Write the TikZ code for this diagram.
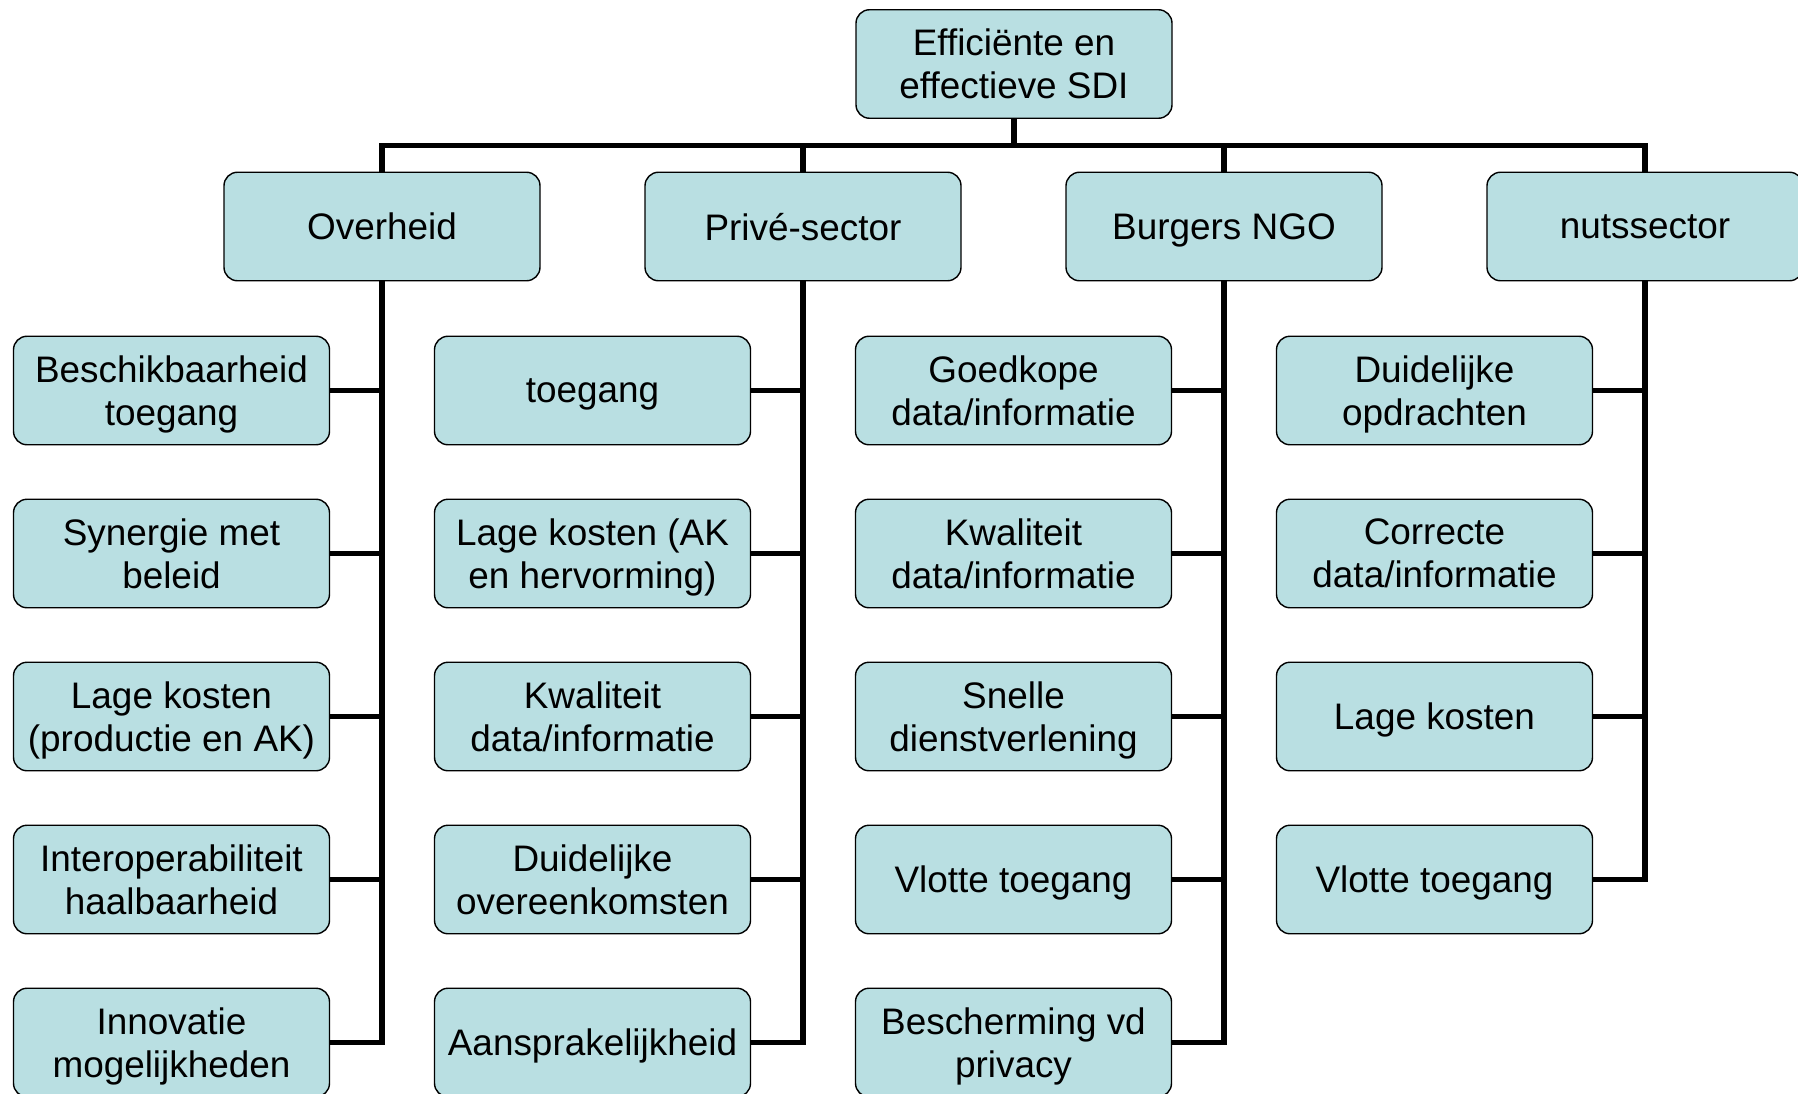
\documentclass[tikz,border=0pt]{standalone}
\usepackage{fontspec}
\setmainfont{Liberation Sans}
\definecolor{boxfill}{RGB}{185,223,226}
\tikzset{
  box/.style={draw=black, line width=0.8pt, fill=boxfill, rounded corners=0.27cm,
    minimum width=6.32cm, minimum height=2.17cm, inner sep=0pt, align=center,
    text depth=0pt, font=\fontsize{21}{24.5}\selectfont},
  bar/.style={line width=3.2pt, black}
}
\begin{document}
\begin{tikzpicture}
  \useasboundingbox (0,0) rectangle (35.96,-21.88);

  \node[box] (root) at (20.28,-1.28) {Effici\"ente en\\effectieve SDI};
  \coordinate (bus) at (20.28,-2.91);

  \node[box] (overheid) at (7.64,-4.53) {Overheid};
  \node[box] (prive) at (16.06,-4.53) {Priv\'e-sector};
  \node[box] (burgers) at (24.48,-4.53) {Burgers NGO};
  \node[box] (nuts) at (32.90,-4.53) {nutssector};

  \draw[bar] (root.south) -- (bus);
  \foreach \s in {overheid,prive,burgers,nuts}
    \draw[bar] (bus) -| (\s.north);

  % kolom overheid
  \foreach \t [count=\i] in {{Beschikbaarheid\\toegang},{Synergie met\\beleid},
      {Lage kosten\\(productie en AK)},{Interoperabiliteit\\haalbaarheid},
      {Innovatie\\mogelijkheden}}
    \node[box] (o\i) at (3.43,{-7.81-3.26*(\i-1)}) {\t};
  % kolom prive
  \foreach \t [count=\i] in {{toegang},{Lage kosten (AK\\en hervorming)},
      {Kwaliteit\\data/informatie},{Duidelijke\\overeenkomsten},
      {Aansprakelijkheid}}
    \node[box] (p\i) at (11.85,{-7.81-3.26*(\i-1)}) {\t};
  % kolom burgers
  \foreach \t [count=\i] in {{Goedkope\\data/informatie},{Kwaliteit\\data/informatie},
      {Snelle\\dienstverlening},{Vlotte toegang},{Bescherming vd\\privacy}}
    \node[box] (b\i) at (20.27,{-7.81-3.26*(\i-1)}) {\t};
  % kolom nuts
  \foreach \t [count=\i] in {{Duidelijke\\opdrachten},{Correcte\\data/informatie},
      {Lage kosten},{Vlotte toegang}}
    \node[box] (n\i) at (28.69,{-7.81-3.26*(\i-1)}) {\t};

  \foreach \i in {1,...,5}{
    \draw[bar] (o\i.east) -| (overheid.south);
    \draw[bar] (p\i.east) -| (prive.south);
    \draw[bar] (b\i.east) -| (burgers.south);
  }
  \foreach \i in {1,...,4}
    \draw[bar] (n\i.east) -| (nuts.south);
\end{tikzpicture}
\end{document}
